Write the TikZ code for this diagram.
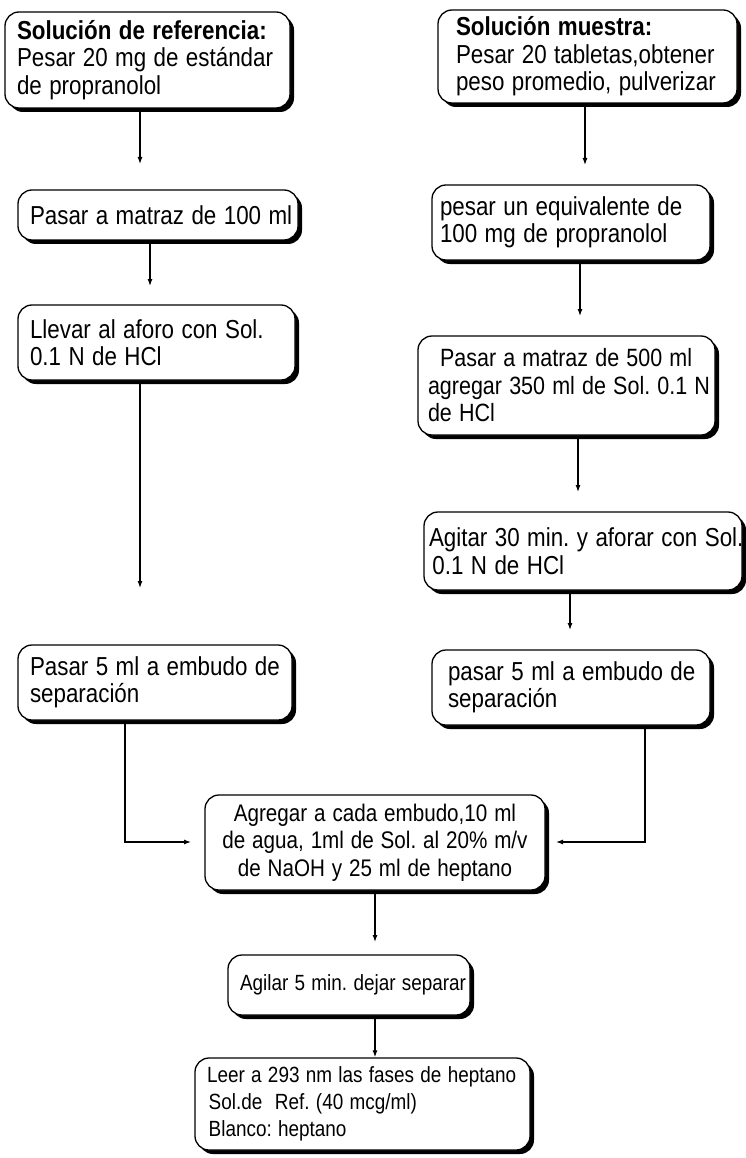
\documentclass[tikz,border=0pt]{standalone}
\usepackage{fontspec}
\usepackage{graphicx}
\setmainfont{Liberation Sans}
\usetikzlibrary{arrows.meta,shadows}
\newcommand{\mln}[1]{\scalebox{0.86}[1]{#1}}
\frenchspacing
\begin{document}
\frenchspacing
\begin{tikzpicture}[x=1pt,y=-1pt,
  box/.style={draw, line width=1.3pt, rounded corners=14pt, fill=white,
    drop shadow={shadow xshift=4pt,shadow yshift=-4pt,opacity=1,fill=black},
    inner ysep=0pt, inner xsep=12pt, align=left,
    font=\fontsize{26}{27.5}\selectfont\frenchspacing},
  mid/.style={font=\fontsize{24}{27.5}\selectfont\frenchspacing},
  small/.style={font=\fontsize{22}{27}\selectfont\frenchspacing},
  arr/.style={line width=1.2pt, -{Latex[length=7pt,width=5pt]}},
]
\useasboundingbox (0,0) rectangle (746,1158);

% left column
\node[box, text width=261pt, minimum height=96pt] (b1) at (147.5,60)
  {\mln{\textbf{Solución de referencia:}}\\\mln{Pesar 20 mg de estándar}\\\mln{de propranolol}};
\node[box, text width=256pt, minimum height=50pt] (b3) at (158,215)
  {\mln{Pasar a matraz de 100 ml}};
\node[box, text width=253pt, minimum height=75pt] (b5) at (156.5,342.5)
  {\mln{Llevar al aforo con Sol.}\\\mln{0.1 N de HCl}};
\node[box, text width=250pt, minimum height=75pt] (b7) at (155,682.5)
  {\mln{Pasar 5 ml a embudo de}\\\mln{separación}};

% right column
\node[box, inner xsep=18pt, text width=263pt, minimum height=93pt] (b2) at (587.5,56.5)
  {\mln{\textbf{Solución muestra:}}\\\mln{Pesar 20 tabletas,obtener}\\\mln{peso promedio, pulverizar}};
\node[box, inner xsep=8pt, text width=262pt, minimum height=75pt] (b4) at (571,222.5)
  {\mln{pesar un equivalente de}\\\mln{100 mg de propranolol}};
\node[box, font=\fontsize{25}{27.5}\selectfont\frenchspacing, inner xsep=10pt, text width=277pt, minimum height=99pt] (b6) at (566.5,385.5)
  {\mln{\hspace*{14pt}Pasar a matraz de 500 ml}\\\mln{agregar 350 ml de Sol. 0.1 N}\\\mln{de HCl}};
\node[box, inner xsep=5pt, text width=308pt, minimum height=78pt] (b8) at (583,551)
  {\mln{Agitar 30 min. y aforar con Sol.}\\\mln{\hspace*{4pt}0.1 N de HCl}};
\node[box, inner xsep=16pt, text width=246pt, minimum height=75pt] (b9) at (571,687.5)
  {\mln{pasar 5 ml a embudo de}\\\mln{separación}};

% bottom
\node[box, mid, align=center, text width=316pt, minimum height=95pt] (b10) at (375,842.5)
  {\mln{Agregar a cada embudo,10 ml}\\\mln{de agua, 1ml de Sol. al 20\% m/v}\\\mln{de NaOH y 25 ml de heptano}};
\node[box, small, inner xsep=12pt, text width=218pt, minimum height=60pt] (b11) at (349,985)
  {\mln{Agilar 5 min. dejar separar}};
\node[box, small, inner xsep=12pt, text width=311pt, minimum height=92pt] (b12) at (362.5,1104)
  {\mln{Leer a 293 nm las fases de heptano}\\\mln{\hspace*{2pt}Sol.de\ \ Ref. (40 mcg/ml)}\\\mln{\hspace*{2pt}Blanco: heptano}};

% connectors
\coordinate (e1) at (140,164);
\coordinate (e2) at (150,286);
\coordinate (e3) at (140,588);
\coordinate (e4) at (585,165);
\coordinate (e5) at (580,316);
\coordinate (e6) at (578,492);
\coordinate (e7) at (570,630);
\coordinate (k1) at (125,842);
\coordinate (e8) at (191,842);
\coordinate (k2) at (645,842);
\coordinate (e9) at (556,842);
\coordinate (e10) at (375,942);

\draw[arr] (b1.south -| e1) -- (e1);
\draw[arr] (b3.south -| e2) -- (e2);
\draw[arr] (b5.south -| e3) -- (e3);
\draw[arr] (b2.south -| e4) -- (e4);
\draw[arr] (b4.south -| e5) -- (e5);
\draw[arr] (b6.south -| e6) -- (e6);
\draw[arr] (b8.south -| e7) -- (e7);
\draw[arr] (b7.south -| k1) -- (k1) -- (e8);
\draw[arr] (b9.south -| k2) -- (k2) -- (e9);
\draw[arr] (b10.south -| e10) -- (e10);
\draw[arr] (b11.south -| e10) -- (b12.north -| e10);
\end{tikzpicture}
\end{document}
